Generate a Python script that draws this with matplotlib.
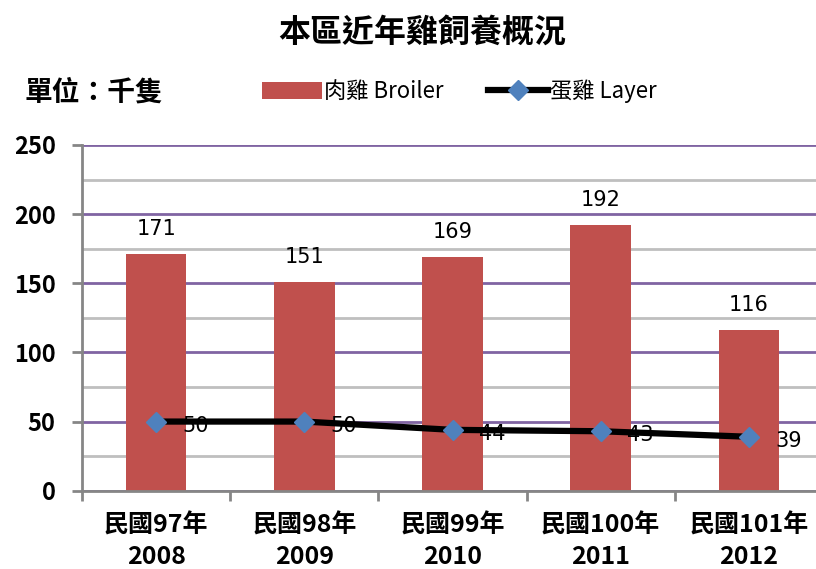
import numpy as np
import matplotlib
matplotlib.use("Agg")
import matplotlib.pyplot as plt
from matplotlib.ticker import MultipleLocator, FixedLocator

plt.rcParams['font.family'] = ['Noto Sans CJK TC', 'DejaVu Sans']

# data (unit: thousand birds)
years_roc = ['民國97年', '民國98年', '民國99年', '民國100年', '民國101年']
years_ad = ['2008', '2009', '2010', '2011', '2012']
broiler = [171, 151, 169, 192, 116]
layer = [50, 50, 44, 43, 39]

W, H = 816, 569
fig = plt.figure(figsize=(W / 100, H / 100), dpi=100)
ax = fig.add_axes([82 / W, 1 - 490.7 / H, (823 - 82) / W, (490.7 - 145) / H])

x = np.arange(len(broiler))
bars = ax.bar(x, broiler, width=0.41, color='#C0504D', zorder=2)
line, = ax.plot(x, layer, color='black', lw=4.5, marker='D', ms=10,
                mfc='#4F81BD', mec='#4F81BD', zorder=4)

# data labels
for xi, v in zip(x, broiler):
    ax.annotate(str(v), (xi, v), xytext=(0, 11), textcoords='offset points',
                ha='center', va='bottom', fontsize=15, family='DejaVu Sans')
for xi, v in zip(x, layer):
    ax.annotate(str(v), (xi, v), xytext=(19, -3), textcoords='offset points',
                ha='left', va='center', fontsize=15, family='DejaVu Sans', zorder=3)

# axes
ax.set_xlim(-0.5, len(x) - 0.5)
ax.set_ylim(0, 250)
ax.yaxis.set_major_locator(MultipleLocator(50))
ax.yaxis.set_minor_locator(MultipleLocator(25))
ax.set_axisbelow(True)
ax.yaxis.grid(True, which='major', color='#8064A2', lw=2)
ax.yaxis.grid(True, which='minor', color='#BFBFBF', lw=2)
ax.tick_params(axis='y', which='major', length=7, width=2, color='#868686',
               labelsize=17, pad=12)
ax.tick_params(axis='y', which='minor', length=0)
for lbl in ax.get_yticklabels():
    lbl.set_fontweight('bold')

ax.xaxis.set_major_locator(FixedLocator(np.arange(-0.5, len(x), 1.0)))
ax.xaxis.set_minor_locator(FixedLocator(x))
ax.xaxis.set_major_formatter(plt.NullFormatter())
ax.set_xticks(x, [f'{a}\n{b}' for a, b in zip(years_roc, years_ad)], minor=True)
ax.tick_params(axis='x', which='major', length=7, width=2, color='#868686')
ax.tick_params(axis='x', which='minor', length=0, labelsize=18, pad=16)
for lbl in ax.get_xticklabels(minor=True):
    lbl.set_fontweight('bold')
    lbl.set_linespacing(1.4)

for s in ['top', 'right']:
    ax.spines[s].set_visible(False)
for s in ['left', 'bottom']:
    ax.spines[s].set_color('#868686')
    ax.spines[s].set_linewidth(2)

# title, unit, legend
fig.text(422 / W, 1 - 33 / H, '本區近年雞飼養概況', ha='center', va='center',
         fontsize=23, fontweight='bold')
fig.text(25 / W, 1 - 93 / H, '單位：千隻', ha='left', va='center',
         fontsize=20, fontweight='bold')
fig.legend([bars, line], ['肉雞 Broiler', '蛋雞 Layer'], loc='center left',
           bbox_to_anchor=(262 / W, 1 - 91 / H), ncol=2, frameon=False,
           fontsize=16, handlelength=2.7, handleheight=0.8, handletextpad=0.1,
           columnspacing=2.0, borderpad=0, borderaxespad=0)

fig.savefig('out.png', dpi=100)
